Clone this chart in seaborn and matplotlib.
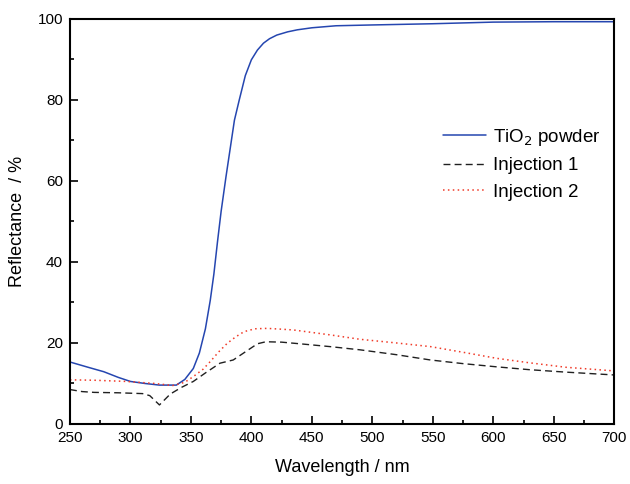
"""
Diffuse reflectance spectra: TiO2 powder vs. two injections.
"""

import matplotlib
matplotlib.use('Agg')
import matplotlib.pyplot as plt
from matplotlib.ticker import MultipleLocator
import seaborn as sns

# TiO2 powder
WL_TIO2 = [250, 265, 278, 290, 300, 312, 324, 338, 345, 352, 357, 362, 366, 369,
           372, 375, 379, 382, 386, 390, 395, 400, 405, 410, 415, 421, 430, 438,
           450, 470, 500, 550, 600, 650, 700]
R_TIO2 = [15.3, 14.0, 12.9, 11.5, 10.5, 10.0, 9.6, 9.6, 11.0, 13.7, 17.5, 23.5,
          30.5, 37.0, 45.0, 52.5, 61.0, 67.0, 75.0, 80.0, 86.0, 89.9, 92.3, 94.0,
          95.1, 96.0, 96.8, 97.3, 97.8, 98.3, 98.5, 98.8, 99.2, 99.3, 99.3]

# Injection 1
WL_INJ1 = [250, 260, 270, 290, 310, 316, 324, 333, 342, 352, 362, 374, 385, 395,
           405, 412, 425, 440, 465, 490, 520, 548, 575, 603, 630, 660, 700]
R_INJ1 = [8.5, 8.0, 7.8, 7.7, 7.5, 7.0, 4.7, 7.4, 9.0, 10.5, 12.6, 15.0, 15.8,
          17.8, 19.8, 20.3, 20.2, 19.8, 19.1, 18.3, 17.1, 15.8, 14.9, 14.1, 13.4,
          12.8, 12.1]

# Injection 2
WL_INJ2 = [250, 270, 297, 320, 335, 345, 352, 360, 366, 373, 380, 387, 394, 403,
           413, 425, 435, 465, 490, 520, 548, 575, 603, 630, 660, 700]
R_INJ2 = [10.9, 10.8, 10.5, 10.0, 9.5, 10.3, 11.7, 13.5, 15.4, 17.8, 19.9, 21.5,
          22.8, 23.5, 23.6, 23.4, 23.2, 22.0, 20.9, 20.0, 19.1, 17.7, 16.2, 15.1,
          14.0, 13.1]

sns.set_theme(style='white')
plt.rcParams['font.family'] = ['Liberation Sans', 'DejaVu Sans']
plt.rcParams['text.color'] = 'black'
plt.rcParams['axes.labelcolor'] = 'black'
plt.rcParams['xtick.color'] = 'black'
plt.rcParams['ytick.color'] = 'black'

fig = plt.figure(figsize=(6.3, 4.84), dpi=100)
ax = fig.add_axes([0.111, 0.124, 0.864, 0.837])

sns.lineplot(x=WL_TIO2, y=R_TIO2, ax=ax, color='#2546b0', lw=1.1,
             label='TiO$_2$ powder')
sns.lineplot(x=WL_INJ1, y=R_INJ1, ax=ax, color='#202020', lw=1.0,
             linestyle=(0, (5, 3)), label='Injection 1')
sns.lineplot(x=WL_INJ2, y=R_INJ2, ax=ax, color='#f03a28', lw=1.1,
             linestyle=(0, (1, 2.2)), label='Injection 2')

ax.set_xlim(250, 700)
ax.set_ylim(0, 100)
ax.xaxis.set_major_locator(MultipleLocator(50))
ax.xaxis.set_minor_locator(MultipleLocator(25))
ax.yaxis.set_major_locator(MultipleLocator(20))
ax.yaxis.set_minor_locator(MultipleLocator(10))
ax.tick_params(which='both', direction='in', top=False, right=False,
               bottom=True, left=True, colors='black', labelsize=11, width=1.2)
ax.tick_params(which='major', length=6, pad=5)
ax.tick_params(which='minor', length=3)
for sp in ax.spines.values():
    sp.set_color('black')
    sp.set_linewidth(1.5)

ax.set_xlabel('Wavelength / nm', fontsize=13, labelpad=10)
ax.set_ylabel('Reflectance  / %', fontsize=13, labelpad=8)

ax.legend(loc='upper left', bbox_to_anchor=(0.655, 0.775), frameon=False,
          fontsize=13.5, handlelength=2.3, handletextpad=0.35,
          labelspacing=0.5, labelcolor='black')

plt.savefig('out.png', dpi=100)
plt.close()
